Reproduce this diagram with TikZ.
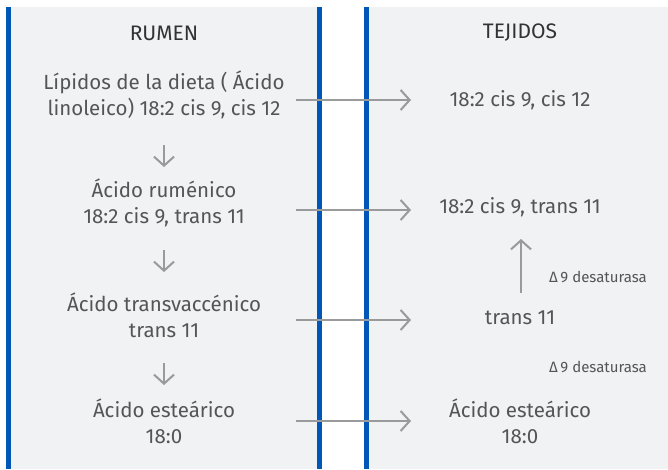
\documentclass[tikz,border=0pt]{standalone}
\usepackage{fontspec}
\setmainfont{Fira Sans}
\usetikzlibrary{arrows.meta}

\definecolor{panelgray}{HTML}{F1F2F4}
\definecolor{barblue}{HTML}{0057B8}
\definecolor{arrgray}{HTML}{9A9A9A}
\definecolor{txtgray}{HTML}{555555}

\begin{document}
\begin{tikzpicture}[x=1pt, y=-1pt,
  txt/.style={text=txtgray, font=\fontsize{20.5}{26}\selectfont, align=center, inner sep=0pt},
  head/.style={text=txtgray!60!black, font=\fontsize{21}{24}\selectfont, inner sep=0pt},
  small/.style={text=txtgray, font=\fontsize{15}{18}\selectfont, inner sep=0pt, anchor=west},
  flecha/.style={draw=arrgray, line width=2.5pt, -{Straight Barb[length=9pt, width=20pt, line width=2pt]}}
]
  \useasboundingbox (0,0) rectangle (668,469);

  % --- Panels ---
  \fill[panelgray] (6,7) rectangle (322,469);
  \fill[panelgray] (364,7) rectangle (668,469);
  \fill[barblue] (6,7) rectangle (11,469);
  \fill[barblue] (317,7) rectangle (322,469);
  \fill[barblue] (364,7) rectangle (369,469);

  % --- Headings ---
  \node[head] (rumen) at (164,33) {RUMEN};
  \node[head] (tejidos) at (520,33) {TEJIDOS};

  % --- Rumen column ---
  \node[txt] (lipidos) at (164,95) {Lípidos de la dieta ( Ácido\\linoleico) 18:2 cis 9, cis 12};
  \node[txt] (rumenico) at (164,203) {Ácido ruménico\\18:2 cis 9, trans 11};
  \node[txt] (transva) at (164,315) {Ácido transvaccénico\\trans 11};
  \node[txt] (esteL) at (164,421) {Ácido esteárico\\18:0};

  % --- Tejidos column ---
  \node[txt] (cisT) at (520,100) {18:2 cis 9, cis 12};
  \node[txt] (transT) at (520,207) {18:2 cis 9, trans 11};
  \node[txt] (onceT) at (520,318) {trans 11};
  \node[txt] (esteR) at (520,421) {Ácido esteárico\\18:0};

  \node[small] (desat1) at (549,277) {Δ\,9 desaturasa};
  \node[small] (desat2) at (549,367) {Δ\,9 desaturasa};

  % --- Arrow ends ---
  \coordinate (d1a) at (164,145); \coordinate (d1b) at (164,167);
  \coordinate (d2a) at (164,250); \coordinate (d2b) at (164,272);
  \coordinate (d3a) at (164,363); \coordinate (d3b) at (164,385);
  \coordinate (h1a) at (296,100); \coordinate (h1b) at (411,100);
  \coordinate (h2a) at (296,210); \coordinate (h2b) at (411,210);
  \coordinate (h3a) at (296,320); \coordinate (h3b) at (411,320);
  \coordinate (h4a) at (296,421); \coordinate (h4b) at (411,421);
  \coordinate (ua) at (521,293); \coordinate (ub) at (521,239);

  % --- Arrows ---
  \draw[flecha] (d1a) -- (d1b);
  \draw[flecha] (d2a) -- (d2b);
  \draw[flecha] (d3a) -- (d3b);
  \draw[flecha] (h1a) -- (h1b);
  \draw[flecha] (h2a) -- (h2b);
  \draw[flecha] (h3a) -- (h3b);
  \draw[flecha] (h4a) -- (h4b);
  \draw[flecha] (ua) -- (ub);

\end{tikzpicture}
\end{document}
